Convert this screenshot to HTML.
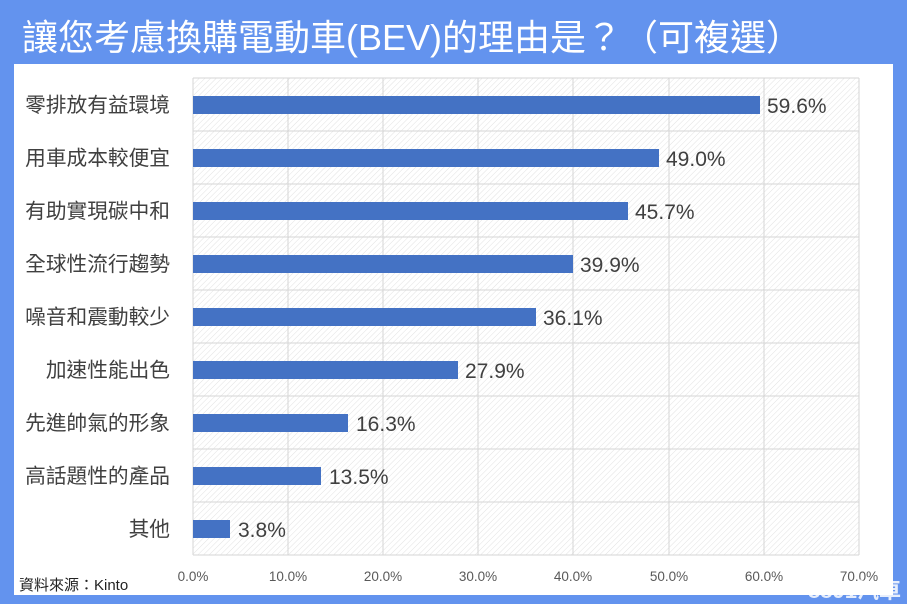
<!DOCTYPE html>
<html><head><meta charset="utf-8"><style>
body{margin:0;width:907px;height:604px;background:#6393ee;overflow:hidden;font-family:"Liberation Sans","Noto Sans CJK TC",sans-serif;}
</style></head><body>
<svg width="907" height="604" xmlns="http://www.w3.org/2000/svg" style="position:absolute;left:0;top:0">
<defs><pattern id="h" width="4" height="4" patternUnits="userSpaceOnUse" patternTransform="rotate(45)"><rect width="4" height="4" fill="#fff"/><line x1="0" y1="0" x2="0" y2="4" stroke="#e2e2e2" stroke-width="1"/></pattern></defs>
<rect width="907" height="604" fill="#6393ee"/>
<text x="22" y="50" font-size="36" fill="#fff" font-family="Liberation Sans,Noto Sans CJK TC,sans-serif">讓您考慮換購電動車(BEV)的理由是？（可複選）</text>
<rect x="14" y="64" width="879" height="531" fill="#fff"/>
<rect x="193" y="78" width="666" height="477" fill="url(#h)"/>
<g stroke="#d6d6d6" stroke-width="1">
<line x1="193" y1="78" x2="859" y2="78"/><line x1="193" y1="131" x2="859" y2="131"/><line x1="193" y1="184" x2="859" y2="184"/><line x1="193" y1="237" x2="859" y2="237"/><line x1="193" y1="290" x2="859" y2="290"/><line x1="193" y1="343" x2="859" y2="343"/><line x1="193" y1="396" x2="859" y2="396"/><line x1="193" y1="449" x2="859" y2="449"/><line x1="193" y1="502" x2="859" y2="502"/><line x1="193" y1="555" x2="859" y2="555"/>
<line x1="193" y1="78" x2="193" y2="555"/><line x1="288" y1="78" x2="288" y2="555"/><line x1="383" y1="78" x2="383" y2="555"/><line x1="478" y1="78" x2="478" y2="555"/><line x1="573" y1="78" x2="573" y2="555"/><line x1="669" y1="78" x2="669" y2="555"/><line x1="764" y1="78" x2="764" y2="555"/><line x1="859" y1="78" x2="859" y2="555"/>
</g>
<g fill="#4472c4">
<rect x="193" y="96" width="567" height="18"/><rect x="193" y="149" width="466" height="18"/><rect x="193" y="202" width="435" height="18"/><rect x="193" y="255" width="380" height="18"/><rect x="193" y="308" width="343" height="18"/><rect x="193" y="361" width="265" height="18"/><rect x="193" y="414" width="155" height="18"/><rect x="193" y="467" width="128" height="18"/><rect x="193" y="520" width="37" height="18"/>
</g>
<g font-size="21" fill="#404040">
<text x="767" y="113">59.6%</text><text x="666" y="166">49.0%</text><text x="635" y="219">45.7%</text><text x="580" y="272">39.9%</text><text x="543" y="325">36.1%</text><text x="465" y="378">27.9%</text><text x="356" y="431">16.3%</text><text x="329" y="484">13.5%</text><text x="238" y="537">3.8%</text>
</g>
<g font-size="20.7" fill="#404040" text-anchor="end">
<text x="170" y="112">零排放有益環境</text><text x="170" y="165">用車成本較便宜</text><text x="170" y="218">有助實現碳中和</text><text x="170" y="271">全球性流行趨勢</text><text x="170" y="324">噪音和震動較少</text><text x="170" y="377">加速性能出色</text><text x="170" y="430">先進帥氣的形象</text><text x="170" y="483">高話題性的產品</text><text x="170" y="536">其他</text>
</g>
<g font-size="13.5" fill="#595959" text-anchor="middle">
<text x="193" y="581">0.0%</text><text x="288" y="581">10.0%</text><text x="383" y="581">20.0%</text><text x="478" y="581">30.0%</text><text x="573" y="581">40.0%</text><text x="669" y="581">50.0%</text><text x="764" y="581">60.0%</text><text x="859" y="581">70.0%</text>
</g>
<text x="19" y="590" font-size="15" fill="#222">資料來源：Kinto</text>
<text x="808" y="598" font-size="22" fill="#fff" opacity="0.85" font-weight="bold">8891汽車</text>
</svg>
</body></html>
